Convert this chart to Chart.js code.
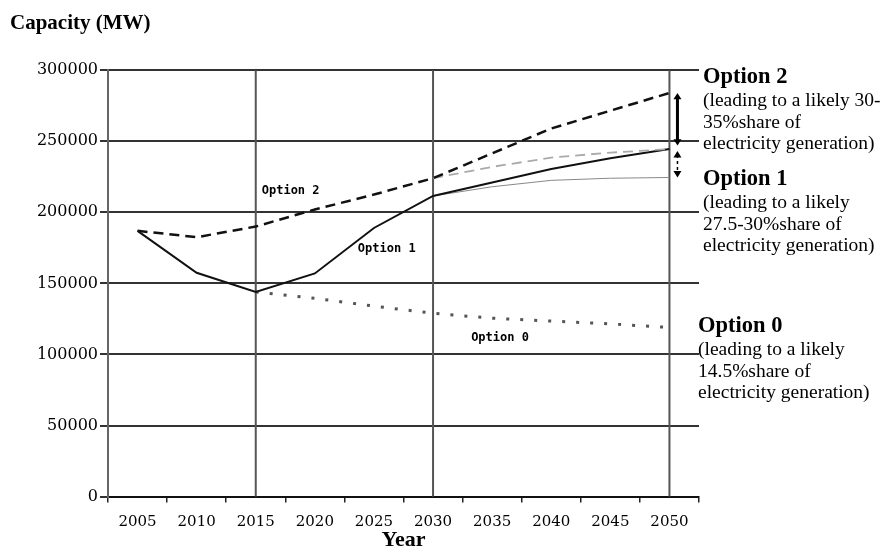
<!DOCTYPE html>
<html>
<head>
<meta charset="utf-8">
<script src="https://cdn.jsdelivr.net/npm/chart.js"></script>
<style>
  html, body { margin: 0; padding: 0; background: #fff; }
  #wrap { width: 884px; height: 550px; position: relative; }
</style>
</head>
<body>
<div id="wrap"><canvas id="capacityChart"></canvas></div>
<script>
// === Data ===
const years = ['2005', '2010', '2015', '2020', '2025', '2030', '2035', '2040', '2045', '2050'];
const option2High = [187000, 182500, 190000, 202000, 212500, 224000, 241500, 259000, 271500, 284000];
const option2Low = [null, null, null, null, null, 224000, 232000, 238500, 242000, 244500];
const option1High = [187000, 157500, 144000, 157000, 189000, 211500, 221000, 230500, 238000, 244500];
const option1Low = [null, null, null, null, null, 211500, 218000, 222500, 224000, 224500];
const option0 = [null, null, 144000, 139500, 134000, 129000, 125500, 123500, 121500, 119000];
const yTicks = [0, 50000, 100000, 150000, 200000, 250000, 300000];
const markerYears = ['2015', '2030', '2050'];

// === Text beside the chart ===
const sideNotes = [
  { head: 'Option 2', lines: ['(leading to a likely 30-', '35%share of', 'electricity generation)'], at: 295000, dx: 4 },
  { head: 'Option 1', lines: ['(leading to a likely', '27.5-30%share of', 'electricity generation)'], at: 223500, dx: 4 },
  { head: 'Option 0', lines: ['(leading to a likely', '14.5%share of', 'electricity generation)'], at: 120000, dx: -1 }
];
const lineLabels = [
  { text: 'Option 2', year: '2015', dx: 6, at: 215000 },
  { text: 'Option 1', year: '2020', dx: 43, at: 174000 },
  { text: 'Option 0', year: '2035', dx: -21, at: 112000 }
];

function drawArrow(ctx, x, y1, y2, width, dashed) {
  const head = 4;
  ctx.save();
  ctx.strokeStyle = '#000';
  ctx.fillStyle = '#000';
  ctx.lineWidth = width;
  if (dashed) ctx.setLineDash([3, 3]);
  ctx.beginPath();
  ctx.moveTo(x, y1 + head);
  ctx.lineTo(x, y2 - head);
  ctx.stroke();
  ctx.setLineDash([]);
  ctx.beginPath();
  ctx.moveTo(x, y1); ctx.lineTo(x - head, y1 + head * 1.6); ctx.lineTo(x + head, y1 + head * 1.6);
  ctx.closePath(); ctx.fill();
  ctx.beginPath();
  ctx.moveTo(x, y2); ctx.lineTo(x - head, y2 - head * 1.6); ctx.lineTo(x + head, y2 - head * 1.6);
  ctx.closePath(); ctx.fill();
  ctx.restore();
}

// === Plugin: vertical marker lines ===
const markerLines = {
  id: 'markerLines',
  beforeDatasetsDraw(chart) {
    const { ctx, chartArea, scales } = chart;
    ctx.save();
    ctx.strokeStyle = '#555';
    ctx.lineWidth = 2;
    markerYears.forEach(function (yr) {
      const x = scales.x.getPixelForValue(years.indexOf(yr));
      ctx.beginPath();
      ctx.moveTo(x, chartArea.top);
      ctx.lineTo(x, chartArea.bottom);
      ctx.stroke();
    });
    ctx.restore();
  }
};

// === Plugin: labels, arrows and notes ===
const notes = {
  id: 'notes',
  afterDraw(chart) {
    const { ctx, chartArea, scales } = chart;
    const last = years.length - 1;
    ctx.save();
    ctx.fillStyle = '#000';
    ctx.textBaseline = 'middle';

    ctx.font = 'bold 12px "DejaVu Sans Mono"';
    lineLabels.forEach(function (l) {
      const x = scales.x.getPixelForValue(years.indexOf(l.year)) + l.dx;
      ctx.fillText(l.text, x, scales.y.getPixelForValue(l.at));
    });

    const ax = scales.x.getPixelForValue(last) + 8;
    drawArrow(ctx, ax, scales.y.getPixelForValue(option2High[last]), scales.y.getPixelForValue(247000), 3, false);
    drawArrow(ctx, ax, scales.y.getPixelForValue(option1High[last]) + 2, scales.y.getPixelForValue(option1Low[last]), 1.5, true);

    sideNotes.forEach(function (n) {
      const x = chartArea.right + n.dx;
      const y = scales.y.getPixelForValue(n.at);
      ctx.font = 'bold 22.5px "Liberation Serif"';
      ctx.fillText(n.head, x, y);
      ctx.font = '19.5px "Liberation Serif"';
      n.lines.forEach(function (t, i) {
        ctx.fillText(t, x, y + 24 + i * 21.5);
      });
    });
    ctx.restore();
  }
};

const ctx = document.getElementById('capacityChart').getContext('2d');
const capacityChart = new Chart(ctx, {
  type: 'line',
  data: {
    labels: years,
    datasets: [
      { label: 'Option 2', data: option2High, borderColor: '#111', borderWidth: 2.5, borderDash: [10, 6] },
      { label: 'Option 2 low', data: option2Low, borderColor: '#aaa', borderWidth: 1.8, borderDash: [10, 6] },
      { label: 'Option 1', data: option1High, borderColor: '#111', borderWidth: 2 },
      { label: 'Option 1 low', data: option1Low, borderColor: '#888', borderWidth: 1 },
      { label: 'Option 0', data: option0, borderColor: '#555', borderWidth: 3, borderDash: [3, 11] }
    ]
  },
  options: {
    responsive: true,
    maintainAspectRatio: false,
    animation: false,
    elements: { point: { radius: 0 }, line: { tension: 0, fill: false } },
    layout: { padding: { left: 10, right: 185, top: 0, bottom: -4 } },
    plugins: {
      legend: { display: false },
      tooltip: { enabled: false },
      title: {
        display: true,
        text: 'Capacity (MW)',
        align: 'start',
        color: '#000',
        font: { family: '"Liberation Serif"', size: 21, weight: 'bold' },
        padding: { top: 11, bottom: 34 }
      }
    },
    scales: {
      x: {
        offset: true,
        grid: { drawOnChartArea: false, offset: true, tickLength: 6, color: '#222', lineWidth: 1.5 },
        border: { color: '#111', width: 2 },
        ticks: { color: '#000', padding: 11, maxRotation: 0, font: { family: '"DejaVu Serif"', size: 15 } },
        title: {
          display: true, text: 'Year', color: '#000',
          font: { family: '"Liberation Serif"', size: 22, weight: 'bold' },
          padding: { top: -15, bottom: 0 }
        }
      },
      y: {
        min: 0,
        max: 300000,
        afterBuildTicks(scale) { scale.ticks = yTicks.map(function (v) { return { value: v }; }); },
        afterFit(scale) { scale.width = 98; },
        grid: { color: '#333', lineWidth: 2, tickLength: 8 },
        border: { color: '#666', width: 2 },
        ticks: {
          color: '#000', padding: 2, font: { family: '"DejaVu Serif"', size: 16 },
          callback: function (v) { return String(v); }
        }
      }
    }
  },
  plugins: [markerLines, notes]
});
</script>
</body>
</html>
